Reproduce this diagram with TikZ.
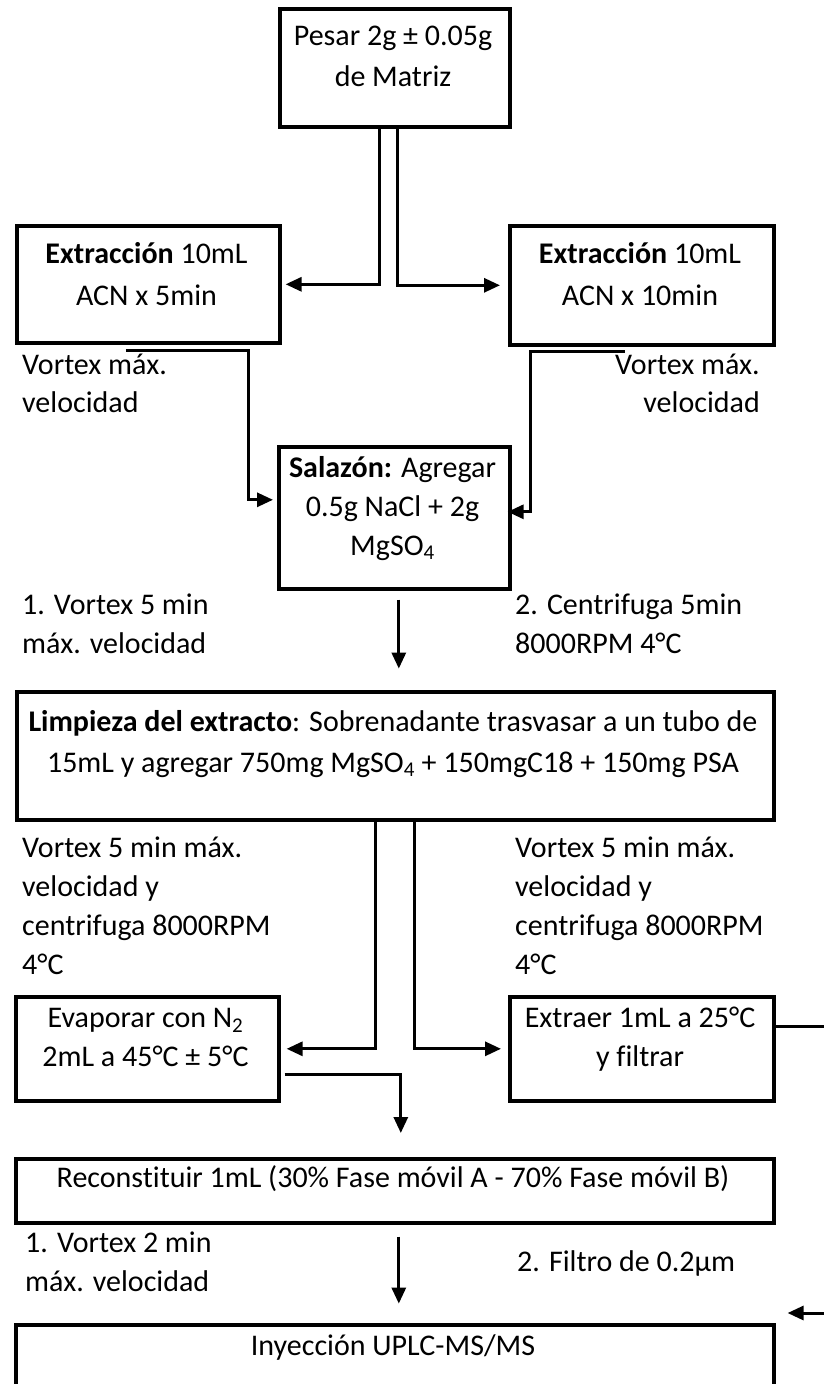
\documentclass[tikz,border=0pt]{standalone}
\usepackage{fontspec}
\setmainfont{Carlito}[Ligatures=NoCommon]
\usetikzlibrary{arrows.meta}
\begin{document}
\begin{tikzpicture}[x=1pt,y=1pt,
  box/.style={draw, line width=3.6pt, inner sep=0pt, anchor=north west},
  conn/.style={line width=3pt},
  arr/.style={line width=3pt, -{Triangle[length=16pt,width=14pt]}},
  txt/.style={inner sep=0pt, font=\fontsize{30}{39}\selectfont},
  lt/.style={txt, anchor=base west},
  rt/.style={txt, anchor=base east},
  ct/.style={txt, anchor=base}]
\useasboundingbox (0,0) rectangle (823,-1384);
% boxes
\node[box, minimum width=230pt, minimum height=118pt] (pesar) at (278,-7) {};
\node[box, minimum width=263pt, minimum height=117pt] (extl) at (15,-224) {};
\node[box, minimum width=264pt, minimum height=119pt] (extr) at (508,-224) {};
\node[box, minimum width=231pt, minimum height=142pt] (sal) at (277,-445) {};
\node[box, minimum width=757pt, minimum height=128pt] (limp) at (15,-690) {};
\node[box, minimum width=263pt, minimum height=104pt] (evap) at (14,-995) {};
\node[box, minimum width=264pt, minimum height=104pt] (extrae) at (508,-995) {};
\node[box, minimum width=758pt, minimum height=64pt] (recon) at (14,-1157) {};
\node[box, minimum width=758pt, minimum height=100pt] (iny) at (14,-1323) {};
% texts in boxes
\node[ct] (p1) at (393,-45) {Pesar 2g ± 0.05g};
\node[ct] (p2) at (393,-86) {de Matriz};
\node[ct] (el1) at (146.5,-263) {\textbf{Extracción} 10mL};
\node[ct] (el2) at (146.5,-305) {ACN x 5min};
\node[ct] (er1) at (640,-263) {\textbf{Extracción} 10mL};
\node[ct] (er2) at (640,-305) {ACN x 10min};
\node[ct] (s1) at (392.5,-477) {\textbf{Salazón:} Agregar};
\node[ct] (s2) at (392.5,-516) {0.5g NaCl + 2g};
\node[ct] (s3) at (392.5,-555) {MgSO\textsubscript{4}};
\node[ct] (l1) at (393,-731) {\textbf{Limpieza del extracto}: Sobrenadante trasvasar a un tubo de};
\node[ct] (l2) at (393,-772) {15mL y agregar 750mg MgSO\textsubscript{4} + 150mgC18 + 150mg PSA};
\node[ct] (ev1) at (145.5,-1027) {Evaporar con N\textsubscript{2}};
\node[ct] (ev2) at (145.5,-1066) {2mL a 45°C ± 5°C};
\node[ct] (ex1) at (640,-1027) {Extraer 1mL a 25°C};
\node[ct] (ex2) at (640,-1066) {y filtrar};
\node[ct] (r1) at (393,-1187) {Reconstituir 1mL (30\% Fase móvil A - 70\% Fase móvil B)};
\node[ct] (i1) at (393,-1355) {Inyección UPLC-MS/MS};
% free labels
\node[lt] (va1) at (22,-374) {Vortex máx.};
\node[lt] (va2) at (22,-412) {velocidad};
\node[rt] (vb1) at (760,-374) {Vortex máx.};
\node[rt] (vb2) at (760,-412) {velocidad};
\node[lt] (c1) at (22,-614) {1. Vortex 5 min};
\node[lt] (c2) at (22,-653) {máx. velocidad};
\node[lt] (c3) at (515,-614) {2. Centrifuga 5min};
\node[lt] (c4) at (515,-653) {8000RPM 4°C};
\node[lt] (d1) at (22,-857) {Vortex 5 min máx.};
\node[lt] (d2) at (22,-896) {velocidad y};
\node[lt] (d3) at (22,-935) {centrifuga 8000RPM};
\node[lt] (d4) at (22,-974) {4°C};
\node[lt] (e1) at (515,-857) {Vortex 5 min máx.};
\node[lt] (e2) at (515,-896) {velocidad y};
\node[lt] (e3) at (515,-935) {centrifuga 8000RPM};
\node[lt] (e4) at (515,-974) {4°C};
\node[lt] (f1) at (25,-1252) {1. Vortex 2 min};
\node[lt] (f2) at (25,-1291) {máx. velocidad};
\node[lt] (f3) at (517,-1271) {2. Filtro de 0.2µm};
% connectors
\draw[arr] ([xshift=-15pt]pesar.south) |- ([xshift=4pt]extl.east);
\draw[arr] ([xshift=3pt]pesar.south) |- ([xshift=-8pt]extr.west);
\draw[arr] ([shift={(-22.5pt,-6pt)}]extl.south) -- ++(123,0) |- ([shift={(-4pt,18pt)}]sal.west);
\draw[arr] ([shift={(-17pt,-5pt)}]extr.south) -- ++(-94,0) |- ([shift={(-4pt,6pt)}]sal.east);
\draw[arr] ([shift={(4.5pt,-9pt)}]sal.south) -- ++(0,-69);
\draw[arr] ([xshift=-19.5pt]limp.south) |- ([xshift=6pt]evap.east);
\draw[arr] ([xshift=19.5pt]limp.south) |- ([xshift=-7pt]extrae.west);
\draw[arr] ([shift={(4pt,-26pt)}]evap.east) -| ([shift={(6pt,24pt)}]recon.north);
\coordinate (edgeA) at (830,-1026);
\coordinate (edgeB) at (830,-1313);
\draw[conn] (extrae.east |- edgeA) -- (edgeA);
\draw[arr] ([shift={(4pt,-12pt)}]recon.south) -- ++(0,-67);
\draw[arr] (edgeB) -- ([shift={(12pt,10pt)}]iny.north east);
\end{tikzpicture}
\end{document}
